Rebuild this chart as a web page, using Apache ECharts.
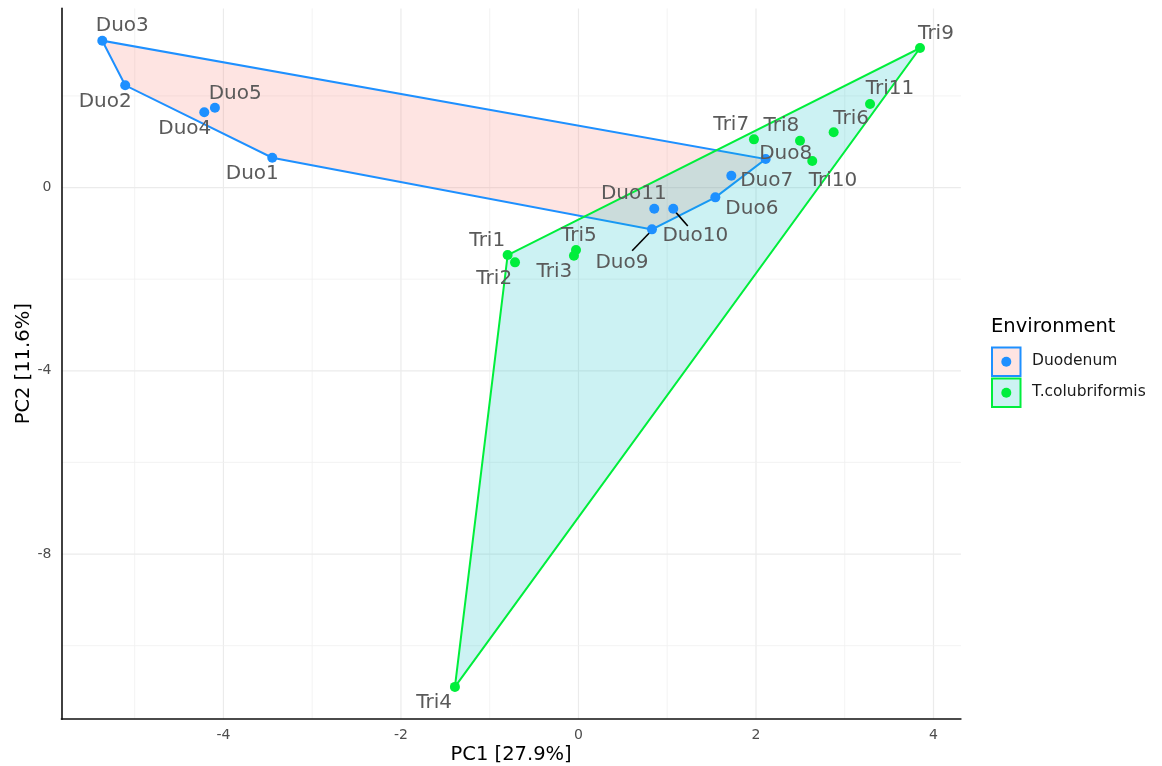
<!DOCTYPE html>
<html><head><meta charset="utf-8">
<script src="https://cdn.jsdelivr.net/npm/echarts@6/dist/echarts.min.js"></script>
<style>html,body{margin:0;padding:0;background:#fff}#c{width:1162px;height:766px}</style>
</head><body><div id="c"></div>
<script>
// ---------- data ----------
const duoNames = ['Duo1','Duo2','Duo3','Duo4','Duo5','Duo6','Duo7','Duo8','Duo9','Duo10','Duo11'];
const duoPC1 = [-3.450,-5.107,-5.365,-4.216,-4.096,1.542,1.722,2.109,0.828,1.068,0.854];
const duoPC2 = [0.651,2.231,3.205,1.642,1.742,-0.214,0.258,0.622,-0.913,-0.463,-0.463];
const triNames = ['Tri1','Tri2','Tri3','Tri4','Tri5','Tri6','Tri7','Tri8','Tri9','Tri10','Tri11'];
const triPC1 = [-0.798,-0.715,-0.051,-1.392,-0.028,2.875,1.977,2.496,3.848,2.634,3.285];
const triPC2 = [-1.474,-1.633,-1.489,-10.90,-1.365,1.205,1.052,1.022,3.046,0.579,1.823];
const xTicks = [-4,-2,0,2,4];
const yTicks = [-8,-4,0];
const xMinorGrid = [-5,-3,-1,1,3];
const yMinorGrid = [-10,-6,-2,2];
const groupNames = ['Duodenum','T.colubriformis'];
const axisTitles = ['PC1 [27.9%]','PC2 [11.6%]'];
const legendTitle = 'Environment';

// ---------- styling (label nudges in pixels) ----------
const labelOffsets = {
  Duo1:[-20,16], Duo2:[-20,16.5], Duo3:[20,-15], Duo4:[-19.5,16.7], Duo5:[20.3,-14.4],
  Duo6:[36.5,11], Duo7:[35.4,5.3], Duo8:[20,-5.7], Duo9:[-30,33.4], Duo10:[22,27], Duo11:[-20.5,-15.4],
  Tri1:[-20.4,-14.3], Tri2:[-20.8,16.7], Tri3:[-19.6,15.7], Tri4:[-20.8,15.6], Tri5:[2.8,-14.3],
  Tri6:[17.5,-13.3], Tri7:[-22.7,-15], Tri8:[-18.6,-14.7], Tri9:[16,-14], Tri10:[20.7,20], Tri11:[20,-15.7]
};
const leaderNames = ['Duo9','Duo10'];
const FONT = 'DejaVu Sans';
const duoColor = '#1E90FF', triColor = '#00EE3C';
const duoFill = 'rgba(248,118,109,0.2)', triFill = 'rgba(0,191,196,0.2)';

// ---------- helpers ----------
function pts(a,b){ return a.map((v,i)=>[v,b[i]]); }
function convexHull(p){
  const s = p.slice().sort((a,b)=>a[0]-b[0]||a[1]-b[1]);
  const cross=(o,a,b)=>(a[0]-o[0])*(b[1]-o[1])-(a[1]-o[1])*(b[0]-o[0]);
  const lo=[],up=[];
  for(const q of s){ while(lo.length>=2&&cross(lo[lo.length-2],lo[lo.length-1],q)<=0) lo.pop(); lo.push(q); }
  for(let i=s.length-1;i>=0;i--){ const q=s[i]; while(up.length>=2&&cross(up[up.length-2],up[up.length-1],q)<=0) up.pop(); up.push(q); }
  up.pop(); lo.pop(); return lo.concat(up);
}
const duoPts = pts(duoPC1,duoPC2), triPts = pts(triPC1,triPC2);
const allX = duoPC1.concat(triPC1), allY = duoPC2.concat(triPC2);
const xr = Math.max(...allX)-Math.min(...allX), yr = Math.max(...allY)-Math.min(...allY);
const xMin = Math.min(...allX)-0.05*xr, xMax = Math.max(...allX)+0.05*xr;
const yMin = Math.min(...allY)-0.05*yr, yMax = Math.max(...allY)+0.05*yr;

function hullSeries(p, stroke, fill){
  const hull = convexHull(p);
  return { type:'custom', coordinateSystem:'cartesian2d', silent:true, z:2, data:[[hull[0][0],hull[0][1]]],
    renderItem(params, api){
      return { type:'polygon', shape:{ points: hull.map(q=>api.coord(q)) },
        style:{ fill, stroke, lineWidth:2 } };
    } };
}
function scatterSeries(names, p, color){
  return { type:'scatter', symbolSize:10, z:4, itemStyle:{ color, opacity:1 },
    label:{ show:true, position:'inside', formatter:'{b}', fontFamily:FONT, fontSize:20, color:'#5a5a5a' },
    emphasis:{ disabled:true },
    data: names.map((n,i)=>({ name:n, value:p[i], label:{ offset: labelOffsets[n] } })) };
}
const gridData = []
  .concat(xTicks.map(v=>[v,0,1,1])).concat(xMinorGrid.map(v=>[v,0,1,0]))
  .concat(yTicks.map(v=>[0,v,0,1])).concat(yMinorGrid.map(v=>[0,v,0,0]));
const gridSeries = { type:'custom', coordinateSystem:'cartesian2d', silent:true, z:0, clip:false,
  data: gridData,
  renderItem(params, api){
    const cs = params.coordSys; const isX = api.value(2), major = api.value(3);
    const c = api.coord([api.value(0), api.value(1)]);
    const shape = isX ? {x1:c[0],y1:cs.y,x2:c[0],y2:cs.y+cs.height} : {x1:cs.x,y1:c[1],x2:cs.x+cs.width,y2:c[1]};
    return { type:'line', shape, style:{ stroke: major?'#EBEBEB':'#F0F0F0', lineWidth: major?1.2:0.8 } };
  } };
const allNames = duoNames.concat(triNames), allPts = duoPts.concat(triPts);
const leaderSeries = { type:'custom', coordinateSystem:'cartesian2d', silent:true, z:3,
  data: leaderNames.map(n=>{ const i = allNames.indexOf(n); return [allPts[i][0], allPts[i][1], i]; }),
  renderItem(params, api){
    const c = api.coord([api.value(0), api.value(1)]);
    const o = labelOffsets[allNames[api.value(2)]];
    return { type:'line', shape:{ x1:c[0]+o[0]*0.05, y1:c[1]+o[1]*0.07, x2:c[0]+o[0]*0.66, y2:c[1]+o[1]*0.64 },
      style:{ stroke:'#000', lineWidth:1.6 } };
  } };

const axisCommon = { type:'value', splitLine:{show:false}, axisTick:{show:false},
  axisLine:{ show:true, onZero:false, lineStyle:{ color:'#111', width:1.6 } },
  nameLocation:'middle', nameMoveOverlap:false,
  nameTextStyle:{ fontFamily:FONT, color:'#000', fontSize:19.5 } };

const legendGraphics = [
  { type:'text', left:991, top:317, style:{ text:legendTitle, fontFamily:FONT, fontSize:19.5, fill:'#000' } },
  { type:'rect', shape:{ x:992, y:347.5, width:28.5, height:28.5 }, style:{ fill:'#FEE4E2', stroke:duoColor, lineWidth:2 } },
  { type:'circle', shape:{ cx:1006.3, cy:361.8, r:5 }, style:{ fill:duoColor } },
  { type:'rect', shape:{ x:992, y:378.5, width:28.5, height:28.5 }, style:{ fill:'#CCF2F3', stroke:triColor, lineWidth:2 } },
  { type:'circle', shape:{ cx:1006.3, cy:392.8, r:5 }, style:{ fill:triColor } },
  { type:'text', left:1032, top:353, style:{ text:groupNames[0], fontFamily:FONT, fontSize:15.5, fill:'#1a1a1a' } },
  { type:'text', left:1032, top:384, style:{ text:groupNames[1], fontFamily:FONT, fontSize:15.5, fill:'#1a1a1a' } }
];

const chart = echarts.init(document.getElementById('c'), null, { renderer:'canvas' });
chart.setOption({
  animation:false, backgroundColor:'#fff',
  grid:{ left:61.4, width:899.5, top:8.4, height:710.8, containLabel:false, outerBoundsMode:'none' },
  xAxis: Object.assign({}, axisCommon, { min:xMin, max:xMax, name:axisTitles[0], nameGap:26,
    axisLabel:{ customValues:xTicks, fontFamily:FONT, fontSize:14, color:'#4D4D4D', margin:9 } }),
  yAxis: Object.assign({}, axisCommon, { min:yMin, max:yMax, name:axisTitles[1], nameGap:27,
    axisLabel:{ customValues:yTicks, fontFamily:FONT, fontSize:14, color:'#4D4D4D', margin:10 } }),
  series:[
    gridSeries,
    hullSeries(duoPts, duoColor, duoFill),
    hullSeries(triPts, triColor, triFill),
    leaderSeries,
    scatterSeries(duoNames, duoPts, duoColor),
    scatterSeries(triNames, triPts, triColor)
  ],
  graphic: legendGraphics
});
</script></body></html>
